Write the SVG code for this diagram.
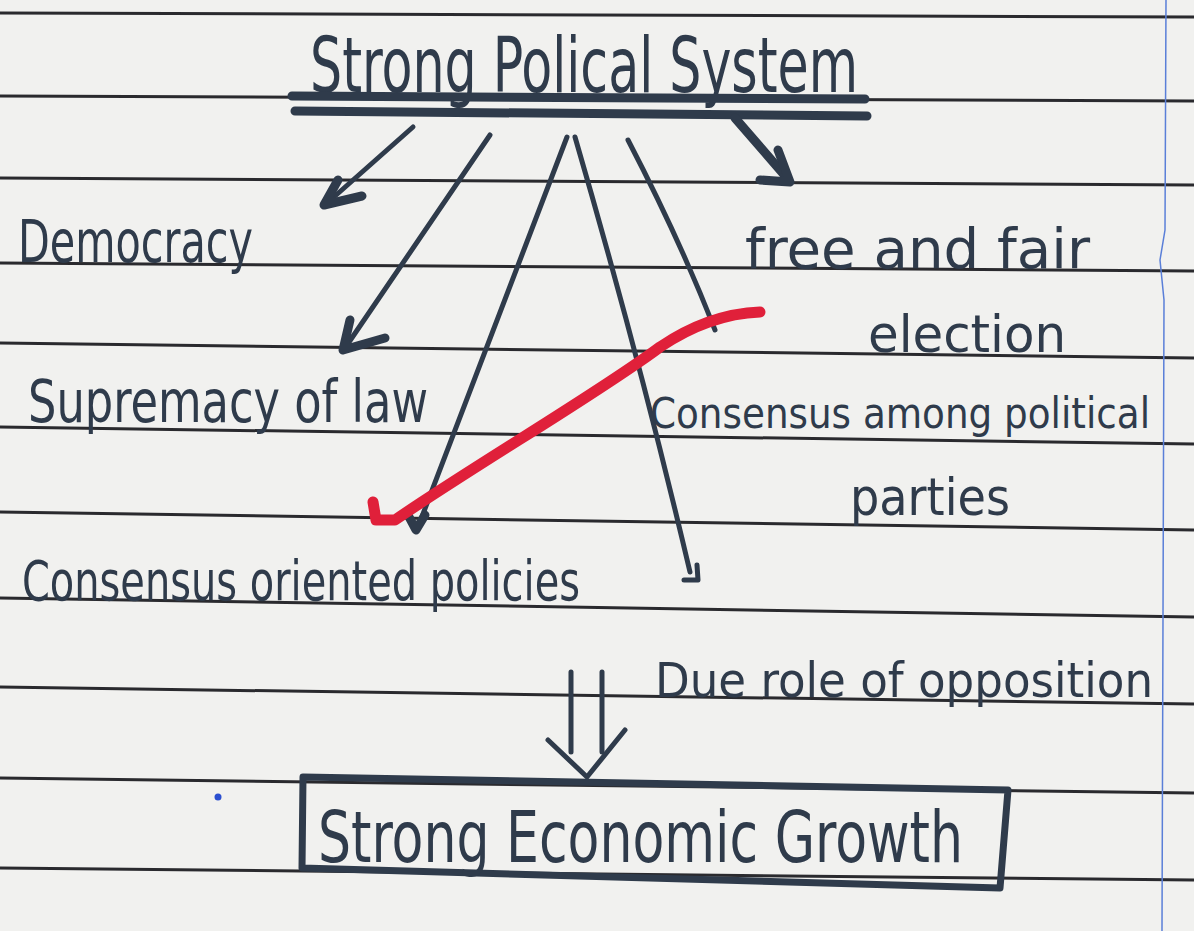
<svg xmlns="http://www.w3.org/2000/svg" width="1194" height="931" viewBox="0 0 1194 931">
<style>
.ink{fill:#2f3b4b;font-family:"Liberation Sans Narrow","DejaVu Sans Condensed","Liberation Sans",sans-serif;}
.rule{stroke:#2a2a2e;stroke-width:3;fill:none;}
.pen{stroke:#2f3b4b;stroke-width:5;fill:none;stroke-linecap:round;stroke-linejoin:round;}
.thick{stroke:#2f3b4b;stroke-width:9;fill:none;stroke-linecap:round;stroke-linejoin:round;}
</style>
<rect width="1194" height="931" fill="#f1f1ef"/>
<g id="paper">
<path class="rule" d="M0 13 L1194 17"/>
<path class="rule" d="M0 96 L1194 101"/>
<path class="rule" d="M0 178 L1194 185"/>
<path class="rule" d="M0 263 L1194 271"/>
<path class="rule" d="M0 343 L1194 358"/>
<path class="rule" d="M0 427 L1194 444"/>
<path class="rule" d="M0 512 L1194 530"/>
<path class="rule" d="M0 598 L1194 617"/>
<path class="rule" d="M0 687 L1194 704"/>
<path class="rule" d="M0 778 L1194 793"/>
<path class="rule" d="M0 868 L1194 880"/>
<path d="M1166 0 L1165 230 L1160 260 L1164 300 L1162 931" stroke="#5a7fd8" stroke-width="1.5" fill="none"/>
<circle cx="218" cy="797" r="3.5" fill="#2b4fd0"/>
</g>
<g id="title">
<text class="ink" x="310" y="92" font-size="76" textLength="548" lengthAdjust="spacingAndGlyphs">Strong Polical System</text>
<path class="thick" d="M292 96 L865 99" stroke-width="7"/>
<path class="thick" d="M295 111 L867 116" stroke-width="7"/>
</g>
<g id="connectors">
<path class="pen" d="M413 127 L326 204"/>
<path class="thick" d="M338 180 L324 205 L362 196" stroke-width="7"/>
<path class="pen" d="M490 135 L345 348"/>
<path class="thick" d="M350 320 L343 350 L385 338" stroke-width="6"/>
<path class="pen" d="M567 137 L418 527"/>
<path class="thick" d="M408 515 L416 530 L425 515" stroke-width="6"/>
<path class="pen" d="M575 137 Q640 360 690 572"/>
<path class="pen" d="M697 565 L698 580 L684 580"/>
<path class="pen" d="M628 140 Q680 240 715 330" stroke-width="6"/>
<path class="thick" d="M735 118 L787 178" stroke-width="8"/>
<path class="thick" d="M778 150 L790 182 L760 180" stroke-width="7"/>
<path class="pen" d="M571 672 L571 752"/>
<path class="pen" d="M602 672 L602 752"/>
<path class="pen" d="M548 740 L587 777 L625 730" stroke-width="6"/>
</g>
<g id="democracy"><text class="ink" x="18" y="262" font-size="58" textLength="235" lengthAdjust="spacingAndGlyphs">Democracy</text></g>
<g id="supremacy"><text class="ink" x="28" y="422" font-size="58" textLength="400" lengthAdjust="spacingAndGlyphs">Supremacy of law</text></g>
<g id="consensus-policies"><text class="ink" x="22" y="600" font-size="56" textLength="558" lengthAdjust="spacingAndGlyphs">Consensus oriented policies</text></g>
<g id="election">
<text class="ink" x="745" y="268" font-size="56" textLength="345" lengthAdjust="spacingAndGlyphs">free and fair</text>
<text class="ink" x="868" y="352" font-size="52" textLength="198" lengthAdjust="spacingAndGlyphs">election</text>
</g>
<g id="consensus-parties">
<text class="ink" x="650" y="428" font-size="42" textLength="500" lengthAdjust="spacingAndGlyphs">Consensus among political</text>
<text class="ink" x="850" y="515" font-size="52" textLength="160" lengthAdjust="spacingAndGlyphs">parties</text>
</g>
<g id="opposition"><text class="ink" x="655" y="697" font-size="48" textLength="498" lengthAdjust="spacingAndGlyphs">Due role of opposition</text></g>
<g id="growth">
<path d="M303 777 L1008 790 L1000 888 L302 868 Z" stroke="#2f3b4b" stroke-width="7" fill="none" stroke-linejoin="round"/>
<text class="ink" x="318" y="862" font-size="72" textLength="645" lengthAdjust="spacingAndGlyphs">Strong Economic Growth</text>
</g>
<g id="red-tick">
<path d="M373 502 L376 520 L395 520 C480 462 600 392 660 347 C700 320 735 313 760 312" stroke="#e0203a" stroke-width="11" fill="none" stroke-linecap="round" stroke-linejoin="round"/>
</g>
</svg>
